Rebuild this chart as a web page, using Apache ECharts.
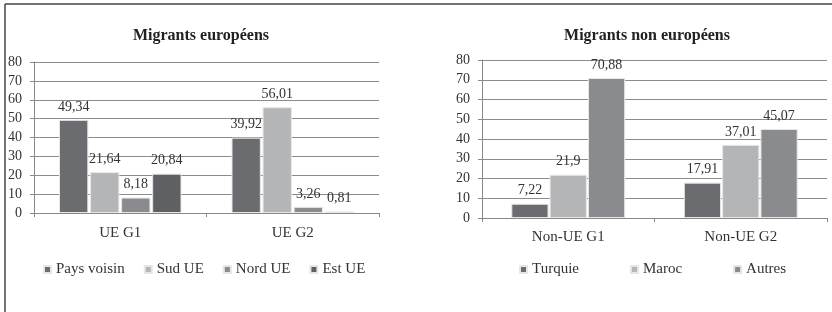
<!DOCTYPE html>
<html><head><meta charset="utf-8">
<script src="https://cdn.jsdelivr.net/npm/echarts@6/dist/echarts.min.js"></script>
<style>html,body{margin:0;padding:0;background:#fff}#c{width:832px;height:312px}</style>
</head><body><div id="c"></div>
<script>
const titleLeft = 'Migrants européens';
const titleRight = 'Migrants non européens';
const catsLeft = ['UE G1', 'UE G2'];
const catsRight = ['Non-UE G1', 'Non-UE G2'];
const yTicks = [0, 10, 20, 30, 40, 50, 60, 70, 80];
const paysVoisin = [49.34, 39.92];
const sudUE = [21.64, 56.01];
const nordUE = [8.18, 3.26];
const estUE = [20.84, 0.81];
const turquie = [7.22, 17.91];
const maroc = [21.9, 37.01];
const autres = [70.88, 45.07];

const FONT = 'Liberation Serif';
const C_DARK = '#6b6c6f', C_LIGHT = '#b4b5b7', C_MID = '#8a8b8e', C_DARK2 = '#5f6063';

function ser(name, data, color, idx, gap) {
  return {
    name, type: 'bar', data, xAxisIndex: idx, yAxisIndex: idx,
    barGap: gap.g, barCategoryGap: gap.c,
    itemStyle: { color, borderColor: '#e6e6e6', borderWidth: 1 },
    label: { show: true, position: 'top', distance: 6, fontFamily: FONT, fontSize: 14, color: '#333',
      formatter: p => String(p.value).replace('.', ',') }
  };
}
const gL = { g: '6%', c: '29%' }, gR = { g: '3%', c: '34%' };

function xAx(cats, idx, margin) {
  return { type: 'category', data: cats, gridIndex: idx,
    axisLine: { lineStyle: { color: '#888' } },
    axisTick: { show: true, length: 4, lineStyle: { color: '#888' } },
    axisLabel: { fontFamily: FONT, fontSize: 15, color: '#333', margin } };
}
function yAx(idx) {
  return { type: 'value', gridIndex: idx, min: yTicks[0], max: yTicks[yTicks.length - 1], interval: 10,
    axisLine: { show: true, lineStyle: { color: '#888' } },
    axisTick: { show: true, length: 4, lineStyle: { color: '#888' } },
    splitLine: { lineStyle: { color: '#8c8c8c', width: 1 } },
    axisLabel: { fontFamily: FONT, fontSize: 14, color: '#333', margin: 12 } };
}

const chart = echarts.init(document.getElementById('c'), null, { renderer: 'canvas' });
chart.setOption({
  animation: false,
  backgroundColor: '#fff',
  title: [
    { text: titleLeft, left: 196, top: 23, textAlign: 'center', textStyle: { fontFamily: FONT, fontSize: 16, fontWeight: 'bold', color: '#222' } },
    { text: titleRight, left: 642, top: 23, textAlign: 'center', textStyle: { fontFamily: FONT, fontSize: 16, fontWeight: 'bold', color: '#222' } }
  ],
  grid: [
    { left: 34, right: 453, top: 62, bottom: 99 },
    { left: 482, right: 5, top: 60, bottom: 94 }
  ],
  xAxis: [xAx(catsLeft, 0, 13), xAx(catsRight, 1, 12)],
  yAxis: [yAx(0), yAx(1)],
  legend: [
    { data: ['Pays voisin', 'Sud UE', 'Nord UE', 'Est UE'], left: 38, top: 257, itemWidth: 7, itemHeight: 7, itemGap: 19, icon: 'rect',
      textStyle: { fontFamily: FONT, fontSize: 15, color: '#333' } },
    { data: ['Turquie', 'Maroc', 'Autres'], left: 514, top: 257, itemWidth: 7, itemHeight: 7, itemGap: 51, icon: 'rect',
      textStyle: { fontFamily: FONT, fontSize: 15, color: '#333' } }
  ],
  series: [
    ser('Pays voisin', paysVoisin, C_DARK, 0, gL),
    ser('Sud UE', sudUE, C_LIGHT, 0, gL),
    ser('Nord UE', nordUE, C_MID, 0, gL),
    ser('Est UE', estUE, C_DARK2, 0, gL),
    ser('Turquie', turquie, C_DARK, 1, gR),
    ser('Maroc', maroc, C_LIGHT, 1, gR),
    ser('Autres', autres, C_MID, 1, gR)
  ],
  graphic: [
    { type: 'line', shape: { x1: 5, y1: 4, x2: 832, y2: 4 }, style: { stroke: '#444', lineWidth: 1.5 } },
    { type: 'line', shape: { x1: 5, y1: 4, x2: 5, y2: 312 }, style: { stroke: '#444', lineWidth: 1.5 } }
  ]
});
</script></body></html>
